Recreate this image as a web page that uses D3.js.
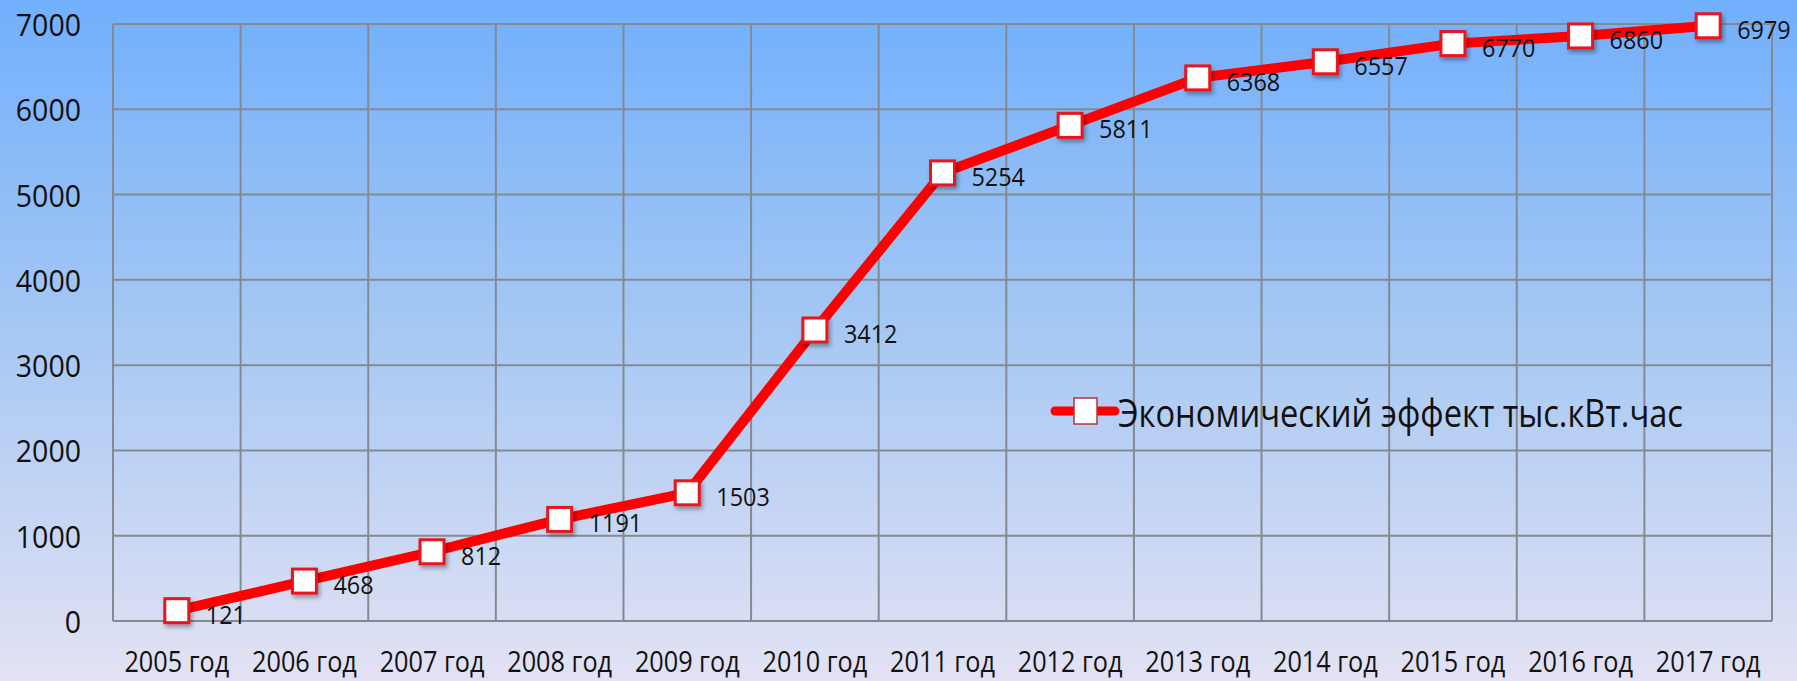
<!DOCTYPE html>
<html>
<head>
<meta charset="utf-8">
<script src="https://cdn.jsdelivr.net/npm/d3@7"></script>
<style>
  html, body { margin: 0; padding: 0; overflow: hidden; }
  svg { display: block; }
  text { font-family: "Open Sans", "Noto Sans", sans-serif; fill: #111; }
</style>
</head>
<body>
<div class="chart"></div>
<script>
// chart data
const years = ['2005 год', '2006 год', '2007 год', '2008 год', '2009 год', '2010 год', '2011 год',
    '2012 год', '2013 год', '2014 год', '2015 год', '2016 год', '2017 год'];
const values = [121, 468, 812, 1191, 1503, 3412, 5254, 5811, 6368, 6557, 6770, 6860, 6979];
const yTicks = [0, 1000, 2000, 3000, 4000, 5000, 6000, 7000];
const seriesName = 'Экономический эффект тыс.кВт.час';

const drawChart = (selector, outerWidth, outerHeight) => {
    const margin = {top: 24, right: 25, bottom: 60, left: 113};
    const width = outerWidth - margin.left - margin.right;
    const height = outerHeight - margin.top - margin.bottom;

    const root = d3.select(`.${selector}`).append('svg')
        .attr('width', outerWidth)
        .attr('height', outerHeight);

    const defs = root.append('defs');
    const grad = defs.append('linearGradient')
        .attr('id', 'bg')
        .attr('x1', 0).attr('y1', 0).attr('x2', 0).attr('y2', 1);
    grad.append('stop').attr('offset', '0%').attr('stop-color', '#71affd');
    grad.append('stop').attr('offset', '45%').attr('stop-color', '#a2c6f3');
    grad.append('stop').attr('offset', '100%').attr('stop-color', '#e3e2f3');

    const shadow = defs.append('filter')
        .attr('id', 'shadow')
        .attr('x', '-50%').attr('y', '-50%').attr('width', '200%').attr('height', '200%');
    shadow.append('feDropShadow')
        .attr('dx', 2).attr('dy', 3).attr('stdDeviation', 2)
        .attr('flood-color', '#000').attr('flood-opacity', 0.35);

    root.append('rect')
        .attr('width', outerWidth)
        .attr('height', outerHeight)
        .attr('fill', 'url(#bg)');

    const svg = root.append('g')
        .attr('transform', 'translate(' + margin.left + ',' + margin.top + ')');

    const x = d3.scaleBand()
        .domain(years)
        .range([0, width]);
    const y = d3.scaleLinear()
        .domain([0, 7000])
        .range([height, 0]);

    // grid
    svg.append('g')
        .selectAll('line')
        .data(yTicks)
        .join('line')
        .attr('x1', 0).attr('x2', width)
        .attr('y1', d => y(d)).attr('y2', d => y(d))
        .attr('stroke', '#858a92')
        .attr('stroke-width', 2);
    svg.append('g')
        .selectAll('line')
        .data(d3.range(years.length + 1))
        .join('line')
        .attr('x1', i => i * x.step()).attr('x2', i => i * x.step())
        .attr('y1', 0).attr('y2', height)
        .attr('stroke', '#858a92')
        .attr('stroke-width', 2);

    // y axis labels
    svg.append('g')
        .selectAll('text')
        .data(yTicks)
        .join('text')
        .attr('transform', d => 'translate(-32,' + y(d) + ') scale(0.92,1)')
        .attr('text-anchor', 'end')
        .attr('dominant-baseline', 'central')
        .style('font-size', '31px')
        .text(d => d);

    // x axis labels
    svg.append('g')
        .selectAll('text')
        .data(years)
        .join('text')
        .attr('transform', d => 'translate(' + (x(d) + x.bandwidth() / 2) + ',' + (height + 40) + ') scale(0.87,1)')
        .attr('text-anchor', 'middle')
        .attr('dominant-baseline', 'central')
        .style('font-size', '29px')
        .text(d => d);

    const cx = (d, i) => x(years[i]) + x.bandwidth() / 2;

    // line
    svg.append('path')
        .datum(values)
        .attr('fill', 'none')
        .attr('stroke', '#ff0000')
        .attr('stroke-width', 10)
        .attr('stroke-linejoin', 'round')
        .attr('stroke-linecap', 'round')
        .attr('d', d3.line()
            .x(cx)
            .y(d => y(d)));

    // markers
    svg.append('g')
        .selectAll('rect')
        .data(values)
        .join('rect')
        .attr('x', (d, i) => cx(d, i) - 12)
        .attr('y', d => y(d) - 12)
        .attr('width', 24)
        .attr('height', 24)
        .attr('fill', '#fff')
        .attr('stroke', '#e8141c')
        .attr('stroke-width', 3)
        .attr('filter', 'url(#shadow)');

    // data labels
    svg.append('g')
        .selectAll('text')
        .data(values)
        .join('text')
        .attr('transform', (d, i) => 'translate(' + (cx(d, i) + 29) + ',' + (y(d) + 3) + ') scale(0.9,1)')
        .attr('dominant-baseline', 'central')
        .style('font-size', '26px')
        .text(d => d);

    // legend
    const legend = root.append('g')
        .attr('transform', 'translate(1055,411)');
    legend.append('line')
        .attr('x1', 0).attr('x2', 60)
        .attr('stroke', '#ff0000')
        .attr('stroke-width', 9)
        .attr('stroke-linecap', 'round');
    legend.append('rect')
        .attr('x', 19).attr('y', -13)
        .attr('width', 23).attr('height', 26)
        .attr('fill', '#fff')
        .attr('stroke', '#b8303c')
        .attr('stroke-width', 1.5);
    legend.append('text')
        .attr('x', 63)
        .attr('y', 1)
        .attr('dominant-baseline', 'central')
        .attr('textLength', 565)
        .attr('lengthAdjust', 'spacingAndGlyphs')
        .style('font-size', '38px')
        .text(seriesName);
};

drawChart('chart', 1797, 681);
</script>
</body>
</html>
